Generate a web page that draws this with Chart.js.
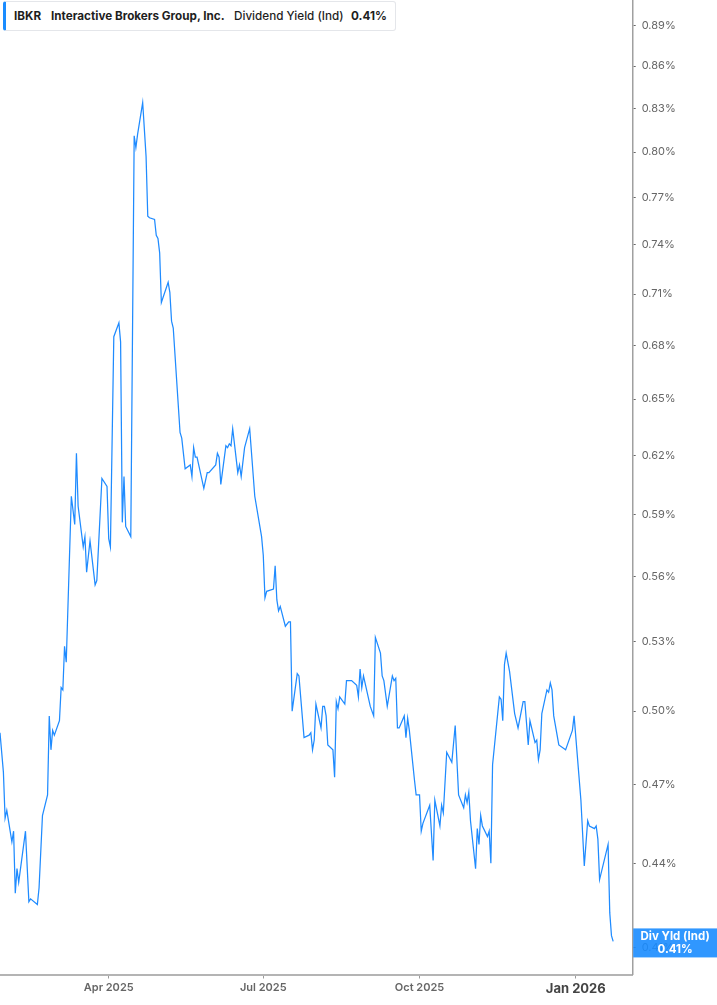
<!DOCTYPE html>
<html>
<head>
<meta charset="utf-8">
<script src="https://cdn.jsdelivr.net/npm/chart.js@4.4.1/dist/chart.umd.min.js"></script>
<style>
  html, body { margin: 0; padding: 0; background: #fff; }
  #wrap { position: relative; width: 717px; height: 1005px; overflow: hidden; }
  #c { position: absolute; left: 0; top: 0; }
  #legend {
    position: absolute; left: 3px; top: 1px; width: 393px; height: 30px;
    border: 1px solid #e4e6ea; border-left: 3px solid #1a8cff; border-radius: 3px;
    background: #fff; font-family: Inter, "Noto Sans", sans-serif; font-size: 11.7px;
    color: #1e1e1e; box-sizing: border-box;
  }
  #legend span { position: absolute; top: 7px; white-space: nowrap; }
</style>
</head>
<body>
<div id="wrap">
  <canvas id="c" width="717" height="1005"></canvas>
  <div id="legend">
    <span style="left:8px;font-weight:700">IBKR</span>
    <span style="left:45px;font-weight:700">Interactive Brokers Group, Inc.</span>
    <span style="left:228px;font-weight:500">Dividend Yield (Ind)</span>
    <span style="left:345px;font-weight:700">0.41%</span>
  </div>
</div>
<script>
// Days counted from 2025-01-01 (day 0)
const days = [
  26,28,29,30,33,34,35,36,37,41,
  43,44,48,49,51,54,55,56,57,58,
  61,62,63,64,65,68,70,71,72,75,
  76,77,79,82,83,86,89,90,91,93,
  96,97,98,99,100,103,105,106,107,110,
  112,113,114,117,118,119,120,121,125,126,
  127,128,132,133,135,138,139,140,141,142,
  146,148,149,153,154,155,156,159,160,161,
  162,163,166,167,168,170,173,176,180,181,
  182,183,187,188,189,190,191,194,196,197,
  198,201,202,205,208,209,210,211,212,215,
  216,217,218,219,222,223,224,225,226,229,
  230,233,236,237,238,239,240,244,246,247,
  250,251,252,254,257,258,259,260,261,264,
  265,266,267,270,271,273,274,275,279,281,
  282,285,286,287,289,292,294,296,299,300,
  301,302,303,306,307,308,309,310,313,314,
  315,316,320,321,322,323,324,326,329,331,
  334,335,337,338,341,342,343,344,345,348,
  349,350,351,352,355,359,363,364,368,370,
  372,373,376,377,378,379,384,385,386,387
];
// Dividend yield (%)
const divYield = [
  0.491,0.475,0.457,0.460,0.448,0.452,0.429,0.438,0.433,0.452,
  0.426,0.427,0.425,0.431,0.458,0.466,0.498,0.484,0.492,0.490,
  0.496,0.510,0.509,0.528,0.521,0.599,0.585,0.621,0.594,0.574,
  0.579,0.562,0.577,0.556,0.558,0.608,0.604,0.578,0.574,0.685,
  0.693,0.682,0.586,0.609,0.584,0.579,0.811,0.803,0.812,0.834,
  0.797,0.758,0.757,0.756,0.746,0.744,0.735,0.705,0.717,0.711,
  0.694,0.690,0.632,0.629,0.613,0.615,0.609,0.624,0.619,0.619,
  0.603,0.611,0.611,0.615,0.621,0.619,0.605,0.625,0.624,0.626,
  0.625,0.634,0.611,0.615,0.609,0.624,0.634,0.599,0.579,0.570,
  0.550,0.553,0.554,0.565,0.549,0.544,0.546,0.537,0.539,0.539,
  0.500,0.516,0.515,0.489,0.490,0.491,0.484,0.488,0.503,0.493,
  0.502,0.502,0.498,0.486,0.484,0.473,0.504,0.501,0.506,0.503,
  0.513,0.513,0.511,0.506,0.518,0.510,0.515,0.502,0.498,0.532,
  0.525,0.515,0.513,0.502,0.515,0.513,0.514,0.493,0.493,0.498,
  0.489,0.497,0.492,0.472,0.466,0.466,0.452,0.455,0.462,0.441,
  0.464,0.454,0.462,0.459,0.483,0.479,0.494,0.466,0.461,0.466,
  0.463,0.467,0.456,0.438,0.453,0.447,0.458,0.454,0.450,0.452,
  0.440,0.478,0.506,0.505,0.496,0.520,0.525,0.517,0.499,0.493,
  0.504,0.504,0.486,0.496,0.487,0.488,0.480,0.484,0.499,0.509,
  0.508,0.512,0.509,0.498,0.486,0.484,0.492,0.498,0.464,0.439,
  0.456,0.454,0.453,0.454,0.449,0.434,0.447,0.422,0.414,0.412
];
const yTickValues = [0.41,0.44,0.47,0.50,0.53,0.56,0.59,0.62,0.65,0.68,0.71,0.74,0.77,0.80,0.83,0.86,0.89];
const xTickDays = [90, 181, 273, 365];
const xTickLabels = ['Apr 2025', 'Jul 2025', 'Oct 2025', 'Jan 2026'];
const seriesLabel = 'Div Yld (Ind)';

const LINE_BLUE = '#1f8bff';
const points = days.map((d, i) => ({ x: d, y: divYield[i] }));

Chart.defaults.font.family = 'Inter, "Noto Sans", sans-serif';

const lastBox = {
  id: 'lastBox',
  afterDraw(chart) {
    const ctx = chart.ctx;
    const ys = chart.scales.y;
    const last = divYield[divYield.length - 1];
    const cy = ys.getPixelForValue(last) + 1.5;
    const left = chart.chartArea.right + 0.5;
    const w = chart.width - left;
    ctx.save();
    ctx.fillStyle = 'rgba(26,140,255,0.9)';
    ctx.fillRect(left, cy - 14.5, w, 29);
    ctx.fillStyle = '#ffffff';
    ctx.textAlign = 'center';
    ctx.textBaseline = 'middle';
    ctx.font = '700 11.5px Inter, "Noto Sans", sans-serif';
    ctx.fillText(seriesLabel, left + w / 2, cy - 6);
    ctx.fillText(last.toFixed(2) + '%', left + w / 2, cy + 7);
    ctx.restore();
  }
};

new Chart(document.getElementById('c'), {
  type: 'line',
  data: {
    datasets: [{
      data: points,
      borderColor: LINE_BLUE,
      borderWidth: 1.25,
      pointRadius: 0,
      pointHoverRadius: 0,
      tension: 0,
      fill: false
    }]
  },
  options: {
    responsive: false,
    animation: false,
    devicePixelRatio: 1,
    layout: { padding: 0 },
    plugins: { legend: { display: false }, tooltip: { enabled: false } },
    scales: {
      x: {
        type: 'linear',
        position: 'bottom',
        min: 26,
        max: 398.5,
        afterBuildTicks(scale) { scale.ticks = xTickDays.map(v => ({ value: v })); },
        afterFit(scale) { scale.height = 30.5; scale.paddingLeft = 0; scale.paddingRight = 0; },
        grid: { drawOnChartArea: false, drawTicks: true, tickLength: 4, color: '#9a9a9a' },
        border: { display: true, color: '#b4b4b4', width: 2 },
        ticks: {
          autoSkip: false,
          maxRotation: 0,
          padding: 3,
          callback(v) { const i = xTickDays.indexOf(v); return i >= 0 ? xTickLabels[i] : ''; },
          color(ctx) { return ctx.tick && ctx.tick.value === 365 ? '#444' : '#666'; },
          font(ctx) {
            return ctx.tick && ctx.tick.value === 365
              ? { size: 13, weight: '700' }
              : { size: 11, weight: '600' };
          }
        }
      },
      y: {
        type: 'logarithmic',
        position: 'right',
        min: 0.4007,
        max: 0.9091,
        afterBuildTicks(scale) { scale.ticks = yTickValues.map(v => ({ value: v })); },
        afterFit(scale) { scale.width = 84.3; scale.paddingTop = 0; scale.paddingBottom = 0; },
        grid: { drawOnChartArea: false, drawTicks: true, tickLength: 3, color: '#666' },
        border: { display: true, color: '#a0a0a0', width: 1.5 },
        ticks: {
          autoSkip: false,
          padding: 6,
          color: '#666',
          font: { size: 11, weight: '400' },
          callback(v) { return Number(v).toFixed(2) + '%'; }
        }
      }
    }
  },
  plugins: [lastBox]
});
</script>
</body>
</html>
